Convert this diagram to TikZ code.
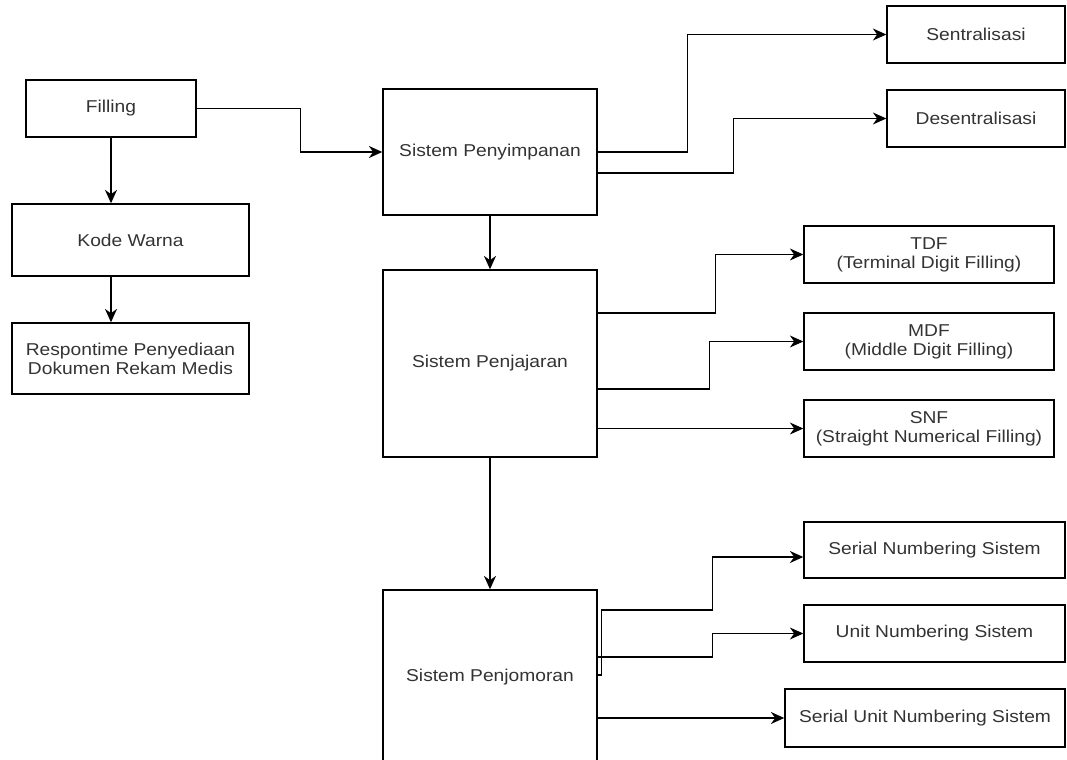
\documentclass[tikz,border=0pt]{standalone}
\usepackage{fontspec}
\setmainfont{Liberation Sans}[FakeStretch=1.12]
\usetikzlibrary{arrows.meta,calc}
\definecolor{teks}{gray}{0.2}
\begin{document}
\begin{tikzpicture}[x=0.025cm,y=-0.025cm,line width=1pt,
  kotak/.style 2 args={draw,rectangle,align=center,text=teks,inner sep=1pt,
    minimum width=#1*0.025cm,minimum height=#2*0.025cm,
    font=\fontsize{12.2pt}{13.5pt}\selectfont},
  panah/.style={-{Stealth[length=9.5pt,width=8.5pt,inset=3pt]}}]
\useasboundingbox (0,0) rectangle (1067,760);
\node[kotak={170}{57}] (filling) at (111,108.5) {Filling};
\node[kotak={237}{72}] (kode) at (130.5,240) {Kode Warna};
\node[kotak={237}{71}] (respon) at (130.5,358.5) {Respontime Penyediaan\\Dokumen Rekam Medis};
\node[kotak={214}{126}] (simpan) at (490,152) {Sistem Penyimpanan};
\node[kotak={178}{57}] (sentral) at (976,34.5) {Sentralisasi};
\node[kotak={178}{57}] (desentral) at (976,118.5) {Desentralisasi};
\node[kotak={214}{187}] (jajar) at (490,363.5) {Sistem Penjajaran};
\node[kotak={250}{57}] (tdf) at (929,254.5) {TDF\\(Terminal Digit Filling)};
\node[kotak={250}{57}] (mdf) at (929,341.5) {MDF\\(Middle Digit Filling)};
\node[kotak={250}{57}] (snf) at (929,428.5) {SNF\\(Straight Numerical Filling)};
\node[kotak={214}{174}] (jomor) at (490,677) {Sistem Penjomoran};
\node[kotak={261}{56}] (serial) at (934.5,550) {Serial Numbering Sistem};
\node[kotak={261}{57}] (unit) at (934.5,633.5) {Unit Numbering Sistem};
\node[kotak={280}{58}] (serialunit) at (925,718) {Serial Unit Numbering Sistem};
\draw[panah] (filling.south) -- (filling.south |- kode.north);
\draw[panah] (kode.south -| filling.south) -- (respon.north -| filling.south);
\draw[panah] (filling.east) -- ++(104,0) |- (simpan.west);
\draw[panah] (simpan.east) -- ++(90,0) |- (sentral.west);
\draw[panah] ($(simpan.east)+(0,21)$) -- ++(136,0) |- (desentral.west);
\draw[panah] (simpan.south) -- (jajar.north);
\draw[panah] ($(jajar.east)+(0,-50.5)$) -- ++(118,0) |- (tdf.west);
\draw[panah] ($(jajar.east)+(0,25.5)$) -- ++(112,0) |- (mdf.west);
\draw[panah] (snf.west -| jajar.east) -- (snf.west);
\draw[panah] (jajar.south) -- (jomor.north);
\draw[panah] ($(jomor.east)+(0,-2)$) -- ++(4,0) -- ++(0,-65) -- ++(111,0) |- ($(serial.west)+(0,7)$);
\draw[panah] ($(jomor.east)+(0,-20)$) -- ++(115,0) |- (unit.west);
\draw[panah] (serialunit.west -| jomor.east) -- (serialunit.west);
\end{tikzpicture}
\end{document}
